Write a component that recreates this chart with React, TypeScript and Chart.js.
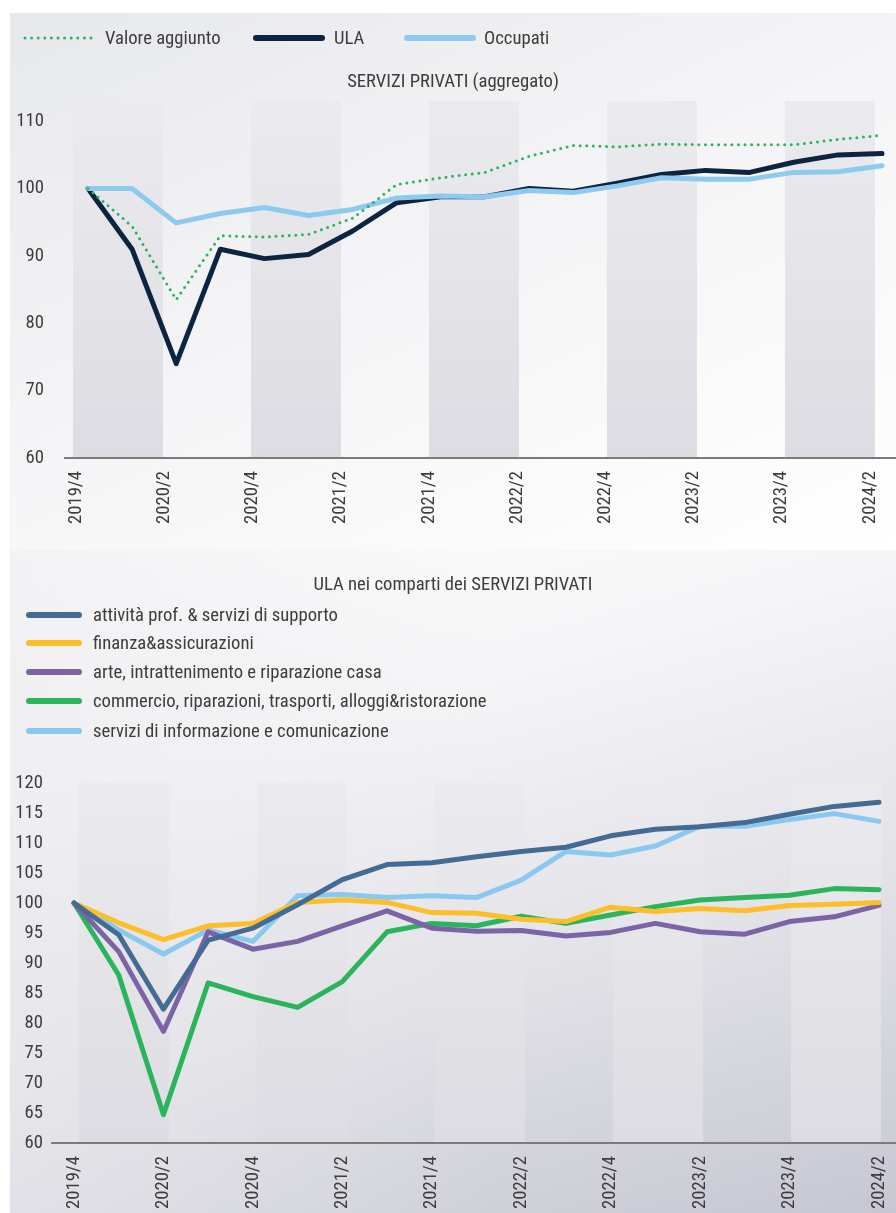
import React, { useEffect, useRef } from 'react';
import { Chart, registerables } from 'chart.js';

Chart.register(...registerables);

// ---------- data ----------
const QUARTERS = [
  '2019/4', '2020/1', '2020/2', '2020/3', '2020/4', '2021/1', '2021/2', '2021/3', '2021/4',
  '2022/1', '2022/2', '2022/3', '2022/4', '2023/1', '2023/2', '2023/3', '2023/4', '2024/1', '2024/2',
];
const LABELED_QUARTERS = ['2019/4', '2020/2', '2020/4', '2021/2', '2021/4', '2022/2', '2022/4', '2023/2', '2023/4', '2024/2'];

const TOP_TITLE = 'SERVIZI PRIVATI (aggregato)';
const VALORE_AGGIUNTO = [100, 94.4, 83.5, 93.0, 92.8, 93.2, 95.6, 100.6, 101.6, 102.4, 104.8, 106.4, 106.2, 106.6, 106.5, 106.5, 106.5, 107.3, 107.9];
const ULA = [100, 91.0, 74.0, 91.0, 89.6, 90.2, 93.7, 97.9, 98.8, 98.8, 100.0, 99.6, 100.8, 102.1, 102.7, 102.4, 103.9, 105.0, 105.2];
const OCCUPATI = [100, 100, 94.9, 96.3, 97.2, 96.0, 96.9, 98.6, 98.9, 98.8, 99.7, 99.4, 100.4, 101.6, 101.4, 101.4, 102.4, 102.5, 103.4];
const TOP_Y_TICKS = [60, 70, 80, 90, 100, 110];

const BOTTOM_TITLE = 'ULA nei comparti dei SERVIZI PRIVATI';
const ATTIVITA_PROF = [100, 94.7, 82.3, 93.8, 95.8, 99.7, 103.9, 106.4, 106.7, 107.7, 108.6, 109.3, 111.2, 112.3, 112.7, 113.4, 114.8, 116.1, 116.8];
const FINANZA = [100, 96.7, 93.9, 96.2, 96.6, 100.1, 100.5, 100.1, 98.4, 98.3, 97.3, 96.9, 99.3, 98.6, 99.1, 98.7, 99.6, 99.8, 100.1];
const ARTE = [100, 91.9, 78.6, 95.2, 92.3, 93.6, 96.2, 98.7, 95.8, 95.3, 95.4, 94.5, 95.1, 96.6, 95.2, 94.8, 96.9, 97.7, 99.6];
const COMMERCIO = [100, 88.0, 64.7, 86.7, 84.4, 82.6, 86.9, 95.2, 96.6, 96.2, 97.8, 96.6, 98.0, 99.4, 100.5, 100.9, 101.3, 102.4, 102.2];
const INFO_COM = [100, 95.5, 91.5, 95.5, 93.6, 101.2, 101.4, 100.9, 101.2, 100.9, 103.8, 108.6, 108.0, 109.5, 112.8, 112.8, 113.9, 114.9, 113.6];
const BOTTOM_Y_TICKS = [60, 65, 70, 75, 80, 85, 90, 95, 100, 105, 110, 115, 120];

// ---------- style ----------
const FONT = "'Roboto Condensed', 'Liberation Sans Narrow', 'Arial Narrow', Roboto, sans-serif";
const FS = 18.67;
const TEXT = '#3d3d3d';
Chart.defaults.font.family = FONT;

const TICK_IDX = LABELED_QUARTERS.map((q) => QUARTERS.indexOf(q));
const toPoints = (arr: number[]) => arr.map((y, i) => ({ x: i, y }));

const bandsPlugin = {
  id: 'bands',
  beforeDraw(chart: any, _args: any, opts: any) {
    const { ctx, chartArea, scales } = chart;
    const x = scales.x;
    const { top, bottom } = chartArea;
    const g = ctx.createLinearGradient(0, top, 0, bottom);
    g.addColorStop(0, opts.topColor);
    g.addColorStop(1, opts.bottomColor);
    ctx.save();
    ctx.fillStyle = g;
    for (let k = 0; k < opts.count; k++) {
      const s = opts.start + opts.period * k;
      const x0 = x.getPixelForValue(s);
      const x1 = x.getPixelForValue(s + opts.width);
      ctx.fillRect(x0, top, x1 - x0, bottom - top);
    }
    ctx.restore();
  },
};

const lineLegendPlugin = {
  id: 'lineLegend',
  afterDraw(chart: any, _args: any, opts: any) {
    const { ctx } = chart;
    opts.items.forEach((it: any, i: number) => {
      const ds = chart.data.datasets[i];
      ctx.save();
      ctx.strokeStyle = ds.borderColor;
      ctx.lineWidth = it.lw;
      ctx.lineCap = 'round';
      ctx.setLineDash(ds.borderDash || []);
      ctx.beginPath();
      ctx.moveTo(it.x0, it.y);
      ctx.lineTo(it.x1, it.y);
      ctx.stroke();
      ctx.setLineDash([]);
      ctx.fillStyle = TEXT;
      ctx.font = `${opts.size}px ${FONT}`;
      ctx.textBaseline = 'middle';
      ctx.textAlign = 'left';
      ctx.fillText(ds.label, it.tx, it.y + 1);
      ctx.restore();
    });
  },
};

function makeXScale(min: number, max: number, height: number, labelOffset: number) {
  return {
    type: 'linear',
    min,
    max,
    afterBuildTicks: (s: any) => {
      s.ticks = TICK_IDX.map((v) => ({ value: v }));
    },
    afterFit: (s: any) => {
      s.height = height;
      s.paddingLeft = 0;
      s.paddingRight = 0;
    },
    grid: { display: false, drawTicks: false },
    border: { display: true, color: '#7b7b7b', width: 2 },
    ticks: {
      autoSkip: false,
      maxRotation: 90,
      minRotation: 90,
      labelOffset,
      padding: 13,
      color: TEXT,
      font: { size: FS },
      callback: (v: any) => QUARTERS[v],
    },
  };
}

function makeYScale(min: number, max: number, tickList: number[], width: number, padding: number) {
  return {
    min,
    max,
    afterBuildTicks: (s: any) => {
      s.ticks = tickList.map((v) => ({ value: v }));
    },
    afterFit: (s: any) => {
      s.width = width;
      s.paddingTop = 0;
      s.paddingBottom = 0;
    },
    grid: { display: false, drawTicks: false },
    border: { display: false },
    ticks: { padding, color: TEXT, font: { size: FS } },
  };
}

function TopChart() {
  const ref = useRef<HTMLCanvasElement>(null);
  useEffect(() => {
    const chart = new Chart(ref.current as HTMLCanvasElement, {
      type: 'line',
      data: {
        datasets: [
          {
            label: 'Valore aggiunto',
            data: toPoints(VALORE_AGGIUNTO),
            borderColor: '#2cb35c',
            borderWidth: 3,
            borderDash: [0, 6.6],
            borderCapStyle: 'round',
            pointRadius: 0,
            order: 0,
          },
          {
            label: 'ULA',
            data: toPoints(ULA),
            borderColor: '#0c2440',
            borderWidth: 5,
            borderJoinStyle: 'round',
            borderCapStyle: 'round',
            pointRadius: 0,
            order: 2,
          },
          {
            label: 'Occupati',
            data: toPoints(OCCUPATI),
            borderColor: '#8dcaee',
            borderWidth: 5,
            borderJoinStyle: 'round',
            borderCapStyle: 'round',
            pointRadius: 0,
            order: 1,
          },
        ],
      } as any,
      options: {
        animation: false,
        responsive: false,
        events: [],
        layout: { padding: 0 },
        plugins: {
          legend: { display: false },
          tooltip: { enabled: false },
          title: {
            display: true,
            text: TOP_TITLE,
            color: TEXT,
            font: { size: FS, weight: 'normal' },
            padding: { top: 57.8, bottom: 7.8 },
          },
          bands: { start: -0.34, width: 2.04, period: 4.035, count: 5, topColor: '#ebebef', bottomColor: '#dcdce2' },
          lineLegend: {
            size: FS,
            items: [
              { x0: 15, x1: 81, y: 25, tx: 95, lw: 3 },
              { x0: 246, x1: 312, y: 25, tx: 324, lw: 6 },
              { x0: 397, x1: 463, y: 25, tx: 474, lw: 6 },
            ],
          },
        } as any,
        scales: {
          x: makeXScale(-0.521, 18.317, 92, -12),
          y: makeYScale(60, 113, TOP_Y_TICKS, 55, 21),
        } as any,
      },
      plugins: [bandsPlugin, lineLegendPlugin],
    });
    return () => chart.destroy();
  }, []);
  return <canvas ref={ref} width={886} height={537} style={{ display: 'block', width: 886, height: 537 }} />;
}

function BottomChart() {
  const ref = useRef<HTMLCanvasElement>(null);
  useEffect(() => {
    const common = { borderWidth: 5, borderJoinStyle: 'round', borderCapStyle: 'round', pointRadius: 0 };
    const chart = new Chart(ref.current as HTMLCanvasElement, {
      type: 'line',
      data: {
        datasets: [
          { label: 'attività prof. & servizi di supporto', data: toPoints(ATTIVITA_PROF), borderColor: '#446b94', ...common },
          { label: 'finanza&assicurazioni', data: toPoints(FINANZA), borderColor: '#fdbe2a', ...common },
          { label: 'arte, intrattenimento e riparazione casa', data: toPoints(ARTE), borderColor: '#7b63a6', ...common },
          { label: 'commercio, riparazioni, trasporti, alloggi&ristorazione', data: toPoints(COMMERCIO), borderColor: '#2ab45b', ...common },
          { label: 'servizi di informazione e comunicazione', data: toPoints(INFO_COM), borderColor: '#8ac8ef', ...common },
        ],
      } as any,
      options: {
        animation: false,
        responsive: false,
        events: [],
        layout: { padding: 0 },
        plugins: {
          legend: { display: false },
          tooltip: { enabled: false },
          title: {
            display: true,
            text: BOTTOM_TITLE,
            color: TEXT,
            font: { size: FS, weight: 'normal' },
            padding: { top: 23.8, bottom: 186.8 },
          },
          bands: { start: 0.112, width: 2.01, period: 3.98, count: 5, topColor: '#ebebef', bottomColor: '#dcdce2' },
          lineLegend: {
            size: FS,
            items: [
              { x0: 19, x1: 69, y: 65, tx: 83, lw: 6 },
              { x0: 19, x1: 69, y: 93, tx: 83, lw: 6 },
              { x0: 19, x1: 69, y: 122, tx: 83, lw: 6 },
              { x0: 19, x1: 69, y: 151, tx: 83, lw: 6 },
              { x0: 19, x1: 69, y: 181, tx: 83, lw: 6 },
            ],
          },
        } as any,
        scales: {
          x: makeXScale(-0.492, 18.38, 70, 0),
          y: makeYScale(60, 120, BOTTOM_Y_TICKS, 42, 9),
        } as any,
      },
      plugins: [bandsPlugin, lineLegendPlugin],
    });
    return () => chart.destroy();
  }, []);
  return <canvas ref={ref} width={886} height={663} style={{ display: 'block', width: 886, height: 663 }} />;
}

export default function App() {
  return (
    <div style={{ position: 'absolute', left: 0, top: 0, width: 896, height: 1213, overflow: 'hidden', background: '#ffffff' }}>
      <div
        style={{
          position: 'absolute',
          left: 10,
          top: 13,
          width: 886,
          height: 537,
          background: 'linear-gradient(155deg, #e7e8ec 0%, #f4f4f6 45%, #ffffff 100%)',
        }}
      >
        <TopChart />
      </div>
      <div
        style={{
          position: 'absolute',
          left: 10,
          top: 550,
          width: 886,
          height: 663,
          background:
            'linear-gradient(to right, rgba(232,232,237,0.5) 0%, rgba(232,232,237,0) 55%), linear-gradient(165deg, #fdfdfd 0%, #f5f5f7 28%, #e2e2e7 62%, #c6c7d1 100%)',
        }}
      >
        <BottomChart />
      </div>
    </div>
  );
}
